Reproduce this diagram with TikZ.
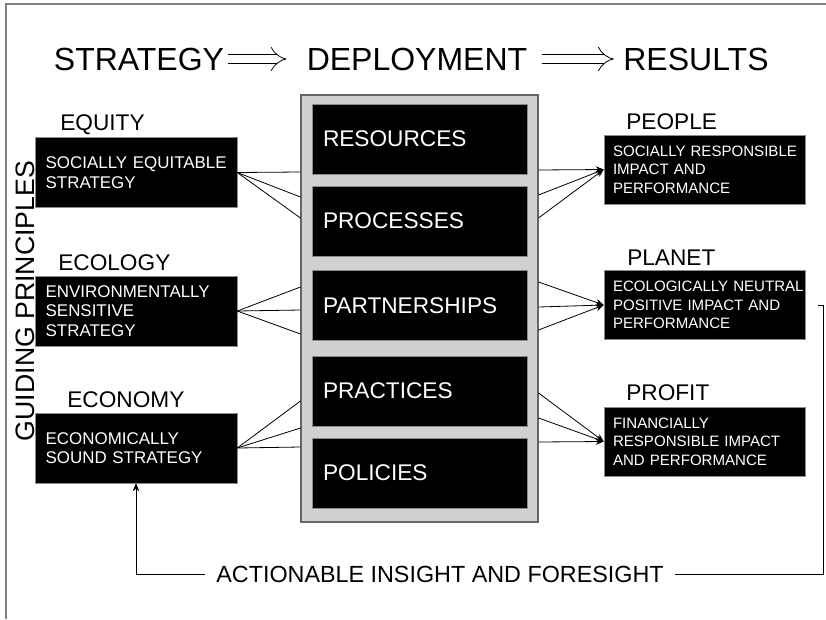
\documentclass[tikz,border=0pt]{standalone}
\usepackage{fontspec}
\setmainfont{Liberation Sans}
\usetikzlibrary{arrows.meta}
\hyphenpenalty=10000

\begin{document}
\begin{tikzpicture}[x=0.75pt, y=-0.75pt,
    titulo/.style={font=\fontsize{24}{28}\selectfont, inner sep=0pt},
    rotulo/.style={font=\fontsize{17}{20}\selectfont, anchor=base west, inner sep=0pt},
    principio/.style={fill=black, draw=black!45, text=white, align=left,
        minimum height=52.5pt, inner xsep=8pt, text width=135.5pt,
        font=\fontsize{12.7}{14.5}\selectfont},
    resultado/.style={fill=black, draw=black!45, text=white, align=left,
        minimum height=52pt, inner xsep=6.75pt, text width=137.25pt,
        font=\fontsize{11.3}{14}\selectfont},
    etapa/.style={fill=black, draw=black!45, text=white, align=left,
        minimum height=52.5pt, inner xsep=8.25pt, text width=144.75pt,
        font=\fontsize{17}{20}\selectfont},
    liga/.style={line width=0.6pt},
    seta/.style={line width=0.6pt, -{Stealth[length=6pt, width=5pt]}}]
    \useasboundingbox (0,0) rectangle (826,619);
    % Moldura
    \draw[black!50, line width=0.8pt] (826,4) -- (6,4) -- (6,619);
    % Cabeçalho
    \node[titulo] (strat) at (139,59) {STRATEGY};
    \node[titulo] (depl) at (417,59) {DEPLOYMENT};
    \node[titulo] (res) at (696,59) {RESULTS};
    \draw[double, double distance=6pt, line width=0.6pt, -{Implies},
        shorten <=3pt, shorten >=15pt] (strat) -- (depl);
    \draw[double, double distance=6pt, line width=0.6pt, -{Implies},
        shorten <=11pt, shorten >=7pt] (depl) -- (res);
    % Princípios
    \node[font=\fontsize{20}{24}\selectfont, rotate=90] (guia) at (25,301) {GUIDING PRINCIPLES};
    \node[rotulo] (lequity) at (60,130) {EQUITY};
    \node[rotulo] (lecology) at (58,270) {ECOLOGY};
    \node[rotulo] (leconomy) at (67,407) {ECONOMY};
    \node[principio] (equity) at (136,172.5) {SOCIALLY~EQUITABLE\\STRATEGY};
    \node[principio] (ecology) at (136,311) {ENVIRONMENTALLY\\SENSITIVE\\STRATEGY};
    \node[principio] (economy) at (136,448) {ECONOMICALLY\\SOUND~STRATEGY};
    % Caixa central
    \node[fill=black!18, draw=black!60, line width=0.8pt,
        minimum width=177.75pt, minimum height=320.25pt] (cont) at (419.5,308.5) {};
    \node[etapa] (resources) at (419.5,139) {RESOURCES};
    \node[etapa] (processes) at (419.5,221) {PROCESSES};
    \node[etapa] (partner) at (419.5,305.5) {PARTNERSHIPS};
    \node[etapa] (practices) at (419.5,391) {PRACTICES};
    \node[etapa] (policies) at (419.5,473) {POLICIES};
    % Resultados
    \node[rotulo] (lpeople) at (626,129) {PEOPLE};
    \node[rotulo] (lplanet) at (627,265) {PLANET};
    \node[rotulo] (lprofit) at (626,400) {PROFIT};
    \node[resultado] (people) at (704.5,169.5) {SOCIALLY~RESPONSIBLE\\IMPACT~AND\\PERFORMANCE};
    \node[resultado] (planet) at (704.5,305) {ECOLOGICALLY~NEUTRAL\\POSITIVE~IMPACT~AND\\PERFORMANCE};
    \node[resultado] (profit) at (704.5,441.5) {FINANCIALLY\\RESPONSIBLE~IMPACT\\AND~PERFORMANCE};
    % Conexões
    \foreach \y in {172,197,218} \draw[liga] (equity.east) -- (cont.west |- 0,\y);
    \foreach \y in {287,310,334} \draw[liga] (ecology.east) -- (cont.west |- 0,\y);
    \foreach \y in {401,428,447} \draw[liga] (economy.east) -- (cont.west |- 0,\y);
    \foreach \y in {170,195,218} \draw[seta] (cont.east |- 0,\y) -- (people.west);
    \foreach \y in {282,307,330} \draw[seta] (cont.east |- 0,\y) -- (planet.west);
    \foreach \y in {393,418,442} \draw[seta] (cont.east |- 0,\y) -- (profit.west);
    % Retroalimentação
    \node[font=\fontsize{17.5}{20}\selectfont, inner xsep=8pt] (insight) at (440,574)
        {ACTIONABLE INSIGHT AND FORESIGHT};
    \coordinate (fb) at (818,305);
    \draw[liga] (fb) -- (823,305) |- (insight.east);
    \draw[seta] (insight.west) -| (economy.south);
\end{tikzpicture}
\end{document}
